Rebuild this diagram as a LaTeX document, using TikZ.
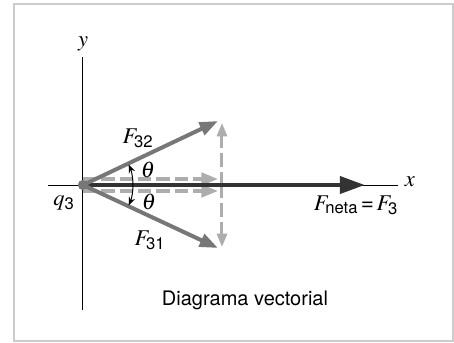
\documentclass[tikz,border=0pt]{standalone}
\usepackage{amsmath}
\usepackage{mathptmx}
\usepackage{fontspec}
\setsansfont{TeX Gyre Heros}
\usetikzlibrary{arrows.meta, positioning}
\definecolor{vecgray}{HTML}{777777}
\definecolor{compgray}{HTML}{ADADAD}
\definecolor{netdark}{HTML}{333333}
\definecolor{framegray}{HTML}{CCCCCC}

\begin{document}
\begin{tikzpicture}[
    x=0.6pt, y=0.6pt,
    every node/.style={font=\fontsize{13.5}{16}\selectfont, inner sep=1pt},
    axis/.style={line width=0.6pt},
    force/.style={-{Triangle[length=11pt, width=8pt]}, line width=2.4pt, vecgray},
    comp/.style ={-{Triangle[length=10pt, width=7.5pt]}, line width=2pt, compgray,
                  dash pattern=on 8pt off 3pt},
    vcomp/.style={-{Triangle[length=8pt, width=6pt]}, line width=1.8pt, compgray,
                  dash pattern=on 8pt off 3pt},
    net/.style  ={-{Triangle[length=15pt, width=10pt]}, line width=2.7pt, netdark},
    angarc/.style={-{Stealth[length=5pt, width=4pt]}, line width=0.6pt},
    charge/.style={circle, fill=vecgray, minimum size=6pt, inner sep=0pt}
]
\useasboundingbox (-83,-157) rectangle (371,185);
\draw[framegray, line width=1pt] (-69,-156) rectangle (370,181);

% axes
\coordinate (ytop) at (0,128);
\coordinate (ybot) at (0,-125);
\coordinate (xlft) at (-35,0);
\coordinate (xrgt) at (315,0);
\draw[axis] (ybot) -- (ytop);
\draw[axis] (xlft) -- (xrgt);

% end points
\coordinate (t32)  at (135,64);
\coordinate (t31)  at (135,-63);
\coordinate (tx)   at (135,0);
\coordinate (vmid) at (139,0);
\coordinate (vtop) at (139,62);
\coordinate (vbot) at (139,-62);
\coordinate (tnet) at (282,0);

\node[charge] (o) at (0,0) {};

% components
\draw[comp, transform canvas={yshift=3.6pt}]  (o.center) -- (tx);
\draw[comp, transform canvas={yshift=-3.6pt}] (o.center) -- (tx);
\draw[vcomp] (vmid) -- (vtop);
\draw[vcomp] (vmid) -- (vbot);

% forces
\draw[net]   (o.center) -- (tnet);
\draw[force] (o.center) -- (t32);
\draw[force] (o.center) -- (t31);
\node[charge] at (o) {};

% angles
\draw[angarc] (50,0) arc[start angle=0, end angle=24, radius=50];
\draw[angarc] (50,0) arc[start angle=0, end angle=-24, radius=50];

% labels
\node (ly)    at (0,141)     {$y$};
\node (lx)    at (327,3)     {$x$};
\node (l32)   at (55,47)     {$F_{\textsf{32}}$};
\node (l31)   at (67,-55)    {$F_{\textsf{31}}$};
\node (th1)   at (65,15)     {$\theta$};
\node (th2)   at (66,-17)    {$\theta$};
\node (lq)    at (-19,-18)   {$q_{\textsf{3}}$};
\node (lnet)  at (273,-20)   {$F_{\textsf{neta}}\,\textsf{=}\,F_{\textsf{3}}$};
\node[font=\sffamily\fontsize{12}{14}\selectfont] (cap) at (162,-115) {Diagrama vectorial};
\end{tikzpicture}
\end{document}
